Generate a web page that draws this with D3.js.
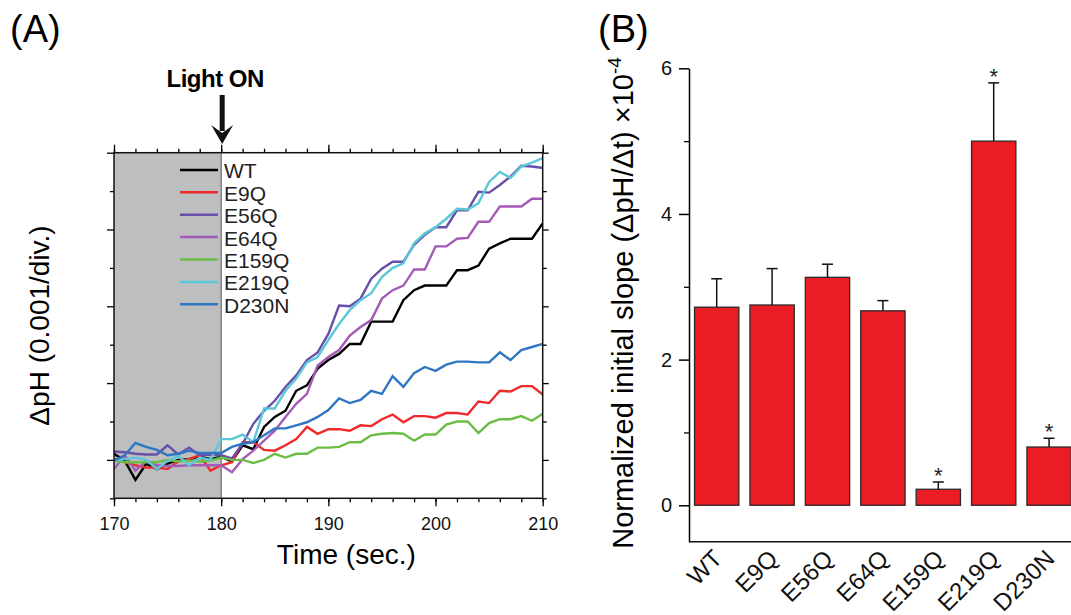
<!DOCTYPE html>
<html>
<head>
<meta charset="utf-8">
<script src="https://cdn.jsdelivr.net/npm/d3@7"></script>
<style>
  body { margin: 0; background: #fff; }
  svg { display: block; font-family: "Liberation Sans", Arial, sans-serif; }
</style>
</head>
<body>
<div id="chart-area"></div>
<script>
// ---- data, panel A (delta pH in 0.001 divisions, one point per second)
const seconds = [170, 171, 172, 173, 174, 175, 176, 177, 178, 179, 180,
  181, 182, 183, 184, 185, 186, 187, 188, 189, 190,
  191, 192, 193, 194, 195, 196, 197, 198, 199, 200,
  201, 202, 203, 204, 205, 206, 207, 208, 209, 210]

const wt = [0.08, -0.01, -0.26, -0.05, -0.12, -0.05, 0.00, 0.01, 0.04, 0.01, 0.04,
  -0.02, 0.19, 0.14, 0.43, 0.56, 0.64, 0.90, 0.97, 1.19, 1.30,
  1.38, 1.51, 1.51, 1.80, 1.80, 1.80, 2.08, 2.21, 2.27, 2.27,
  2.27, 2.47, 2.47, 2.53, 2.75, 2.82, 2.88, 2.88, 2.88, 3.08]
const e9q = [0.01, -0.03, -0.07, -0.10, -0.10, -0.12, -0.02, 0.01, 0.06, -0.14, -0.07,
  -0.03, 0.23, 0.23, 0.13, 0.12, 0.19, 0.27, 0.43, 0.34, 0.40,
  0.40, 0.38, 0.45, 0.44, 0.53, 0.59, 0.49, 0.57, 0.57, 0.55,
  0.61, 0.61, 0.59, 0.76, 0.74, 0.90, 0.89, 0.96, 0.96, 0.85]
const e56q = [0.11, 0.10, 0.08, 0.07, 0.07, 0.19, 0.07, 0.16, 0.06, 0.07, 0.06,
  0.02, 0.21, 0.47, 0.64, 0.77, 0.95, 1.10, 1.30, 1.40, 1.64,
  2.01, 2.00, 2.10, 2.36, 2.49, 2.58, 2.58, 2.80, 2.93, 3.03,
  3.03, 3.25, 3.25, 3.49, 3.48, 3.58, 3.69, 3.83, 3.82, 3.80]
const e64q = [-0.12, 0.06, -0.14, -0.01, -0.07, -0.08, -0.08, -0.07, -0.07, -0.07, -0.07,
  -0.16, 0.01, 0.12, 0.25, 0.38, 0.56, 0.73, 0.86, 1.23, 1.34,
  1.43, 1.62, 1.73, 1.82, 2.10, 2.21, 2.27, 2.48, 2.48, 2.78,
  2.78, 2.88, 2.89, 3.10, 3.10, 3.30, 3.30, 3.30, 3.40, 3.40]
const e159q = [-0.01, -0.03, -0.03, -0.03, -0.03, 0.00, -0.02, -0.01, -0.02, -0.01, 0.03,
  0.00, 0.00, -0.04, 0.00, 0.08, 0.03, 0.08, 0.08, 0.16, 0.16,
  0.17, 0.23, 0.23, 0.32, 0.34, 0.35, 0.34, 0.25, 0.33, 0.33,
  0.46, 0.50, 0.50, 0.35, 0.48, 0.53, 0.53, 0.57, 0.51, 0.60]
const e219q = [-0.01, 0.01, 0.03, 0.00, -0.12, -0.01, 0.05, -0.07, 0.03, 0.00, 0.27,
  0.27, 0.33, 0.23, 0.67, 0.67, 0.90, 1.06, 1.27, 1.34, 1.56,
  1.77, 1.95, 2.08, 2.17, 2.38, 2.50, 2.56, 2.82, 2.95, 3.03,
  3.14, 3.27, 3.26, 3.34, 3.62, 3.75, 3.67, 3.82, 3.87, 3.93]
const d230n = [-0.01, 0.06, 0.22, 0.17, 0.13, 0.06, 0.08, 0.12, 0.09, 0.09, 0.09,
  0.17, 0.21, 0.23, 0.32, 0.41, 0.41, 0.45, 0.49, 0.56, 0.65,
  0.80, 0.74, 0.78, 0.90, 0.86, 1.09, 0.95, 1.13, 1.21, 1.16,
  1.24, 1.28, 1.28, 1.27, 1.27, 1.40, 1.30, 1.43, 1.47, 1.51]

const mutants = ["WT", "E9Q", "E56Q", "E64Q", "E159Q", "E219Q", "D230N"]
const traceColors = ["#000000", "#ee2a2a", "#6a4fa8", "#a45bb6", "#6cbd46", "#5ac8d8", "#2f76c2"]
const timeTicks = [170, 180, 190, 200, 210]

// ---- data, panel B (normalized initial slope x1e-4)
const slopeMean = [2.72, 2.75, 3.13, 2.67, 0.22, 5.00, 0.80]
const slopeErr = [0.39, 0.50, 0.18, 0.14, 0.10, 0.80, 0.12]
const significant = [false, false, false, false, true, true, true]
const slopeTicks = [0, 2, 4, 6]

const traces = [wt, e9q, e56q, e64q, e159q, e219q, d230n]

const svg = d3.select("#chart-area").append("svg")
  .attr("width", 1071)
  .attr("height", 615)

// ================= panel A =================
const A = { LEFT: 114, RIGHT: 542.7, TOP: 152.7, BOTTOM: 498.3 }

const x = d3.scaleLinear()
  .domain([170, 210])
  .range([A.LEFT, A.RIGHT])
const y = d3.scaleLinear()
  .domain([-0.5, 4])
  .range([A.BOTTOM, A.TOP])

svg.append("text")
  .attr("x", 10)
  .attr("y", 42)
  .attr("font-size", 38)
  .text("(A)")

// dark period
svg.append("rect")
  .attr("x", x(170))
  .attr("y", A.TOP)
  .attr("width", x(180) - x(170))
  .attr("height", A.BOTTOM - A.TOP)
  .attr("fill", "#bdbec0")
svg.append("line")
  .attr("x1", x(180)).attr("x2", x(180))
  .attr("y1", A.TOP).attr("y2", A.BOTTOM)
  .attr("stroke", "#555")
  .attr("stroke-width", 1)

// minor + major ticks on all four sides
const minorX = seconds.filter(s => s % 2 === 0)
const minorY = [-0.5, 0.5, 1.5, 2.5, 3.5]
const majorY = [0, 1, 2, 3, 4]

function ticksOnly(axis, vals, size) {
  return g => {
    g.call(axis.tickValues(vals).tickSize(size).tickSizeOuter(0).tickFormat(""))
    g.select(".domain").remove()
    g.selectAll("line").attr("stroke-width", 1.3)
  }
}

svg.append("g").attr("transform", `translate(0,${A.BOTTOM})`)
  .call(ticksOnly(d3.axisBottom(x), minorX, 4))
svg.append("g").attr("transform", `translate(0,${A.TOP})`)
  .call(ticksOnly(d3.axisTop(x), minorX, 4))
svg.append("g").attr("transform", `translate(0,${A.TOP})`)
  .call(ticksOnly(d3.axisTop(x), timeTicks, 8))
svg.append("g").attr("transform", `translate(${A.LEFT},0)`)
  .call(ticksOnly(d3.axisLeft(y), minorY, 4))
svg.append("g").attr("transform", `translate(${A.LEFT},0)`)
  .call(ticksOnly(d3.axisLeft(y), majorY, 7))
svg.append("g").attr("transform", `translate(${A.RIGHT},0)`)
  .call(ticksOnly(d3.axisRight(y), minorY, 4))
svg.append("g").attr("transform", `translate(${A.RIGHT},0)`)
  .call(ticksOnly(d3.axisRight(y), majorY, 6))

const xAxisA = svg.append("g")
  .attr("transform", `translate(0,${A.BOTTOM})`)
  .call(d3.axisBottom(x).tickValues(timeTicks).tickSize(8).tickSizeOuter(0).tickPadding(11))
xAxisA.select(".domain").remove()
xAxisA.selectAll("line").attr("stroke-width", 1.3)
xAxisA.selectAll("text")
  .attr("font-size", 18)
  .attr("font-family", "Liberation Sans, Arial, sans-serif")
  .attr("fill", "#111")

// traces
const line = d3.line()
  .x((d, i) => x(seconds[i]))
  .y(d => y(d))

svg.append("clipPath").attr("id", "clipA")
  .append("rect")
  .attr("x", A.LEFT).attr("y", A.TOP)
  .attr("width", A.RIGHT - A.LEFT).attr("height", A.BOTTOM - A.TOP)

svg.append("g")
  .attr("clip-path", "url(#clipA)")
  .selectAll("path")
  .data(traces)
  .enter().append("path")
  .attr("d", d => line(d))
  .attr("fill", "none")
  .attr("stroke", (d, i) => traceColors[i])
  .attr("stroke-width", 2.4)
  .attr("stroke-linejoin", "miter")

// frame
svg.append("rect")
  .attr("x", A.LEFT).attr("y", A.TOP)
  .attr("width", A.RIGHT - A.LEFT).attr("height", A.BOTTOM - A.TOP)
  .attr("fill", "none")
  .attr("stroke", "#111")
  .attr("stroke-width", 1.5)

// legend
const legend = svg.append("g")
const legendRow = 22.4
mutants.forEach((m, i) => {
  const base = 178.3 + i * legendRow
  legend.append("line")
    .attr("x1", 180).attr("x2", 218)
    .attr("y1", base - 8.4).attr("y2", base - 8.4)
    .attr("stroke", traceColors[i])
    .attr("stroke-width", 2.5)
  legend.append("text")
    .attr("x", 224)
    .attr("y", base)
    .attr("font-size", 21)
    .attr("fill", "#222")
    .text(m)
})

// axis titles
svg.append("text")
  .attr("x", (A.LEFT + A.RIGHT) / 2 + 18)
  .attr("y", 563.5)
  .attr("text-anchor", "middle")
  .attr("font-size", 28)
  .text("Time (sec.)")

svg.append("text")
  .attr("transform", `translate(49, ${(A.TOP + A.BOTTOM) / 2}) rotate(-90)`)
  .attr("text-anchor", "middle")
  .attr("font-size", 28)
  .text("ΔpH (0.001/div.)")

// light on marker
const lx = x(180) + 1
svg.append("text")
  .attr("x", lx - 7)
  .attr("y", 87)
  .attr("text-anchor", "middle")
  .attr("font-size", 24)
  .attr("font-weight", "bold")
  .attr("letter-spacing", -0.5)
  .text("Light ON")
svg.append("rect")
  .attr("x", lx - 2.5).attr("y", 95)
  .attr("width", 5).attr("height", 36)
  .attr("fill", "#111")
svg.append("path")
  .attr("d", `M${lx - 11},125 L${lx},133 L${lx + 11},125 L${lx},144 Z`)
  .attr("fill", "#111")

// ================= panel B =================
const B = { LEFT: 689, TOP: 68.3, BOTTOM: 541.7 }

svg.append("text")
  .attr("x", 598)
  .attr("y", 42)
  .attr("font-size", 38)
  .text("(B)")

const xb = d3.scaleBand()
  .domain(mutants)
  .range([B.LEFT, B.LEFT + 7 * 55.4])
  .paddingInner(0.2)
  .paddingOuter(0.1)
const yb = d3.scaleLinear()
  .domain([-0.5, 6])
  .range([B.BOTTOM, B.TOP])

const yAxisB = svg.append("g")
  .attr("transform", `translate(${B.LEFT},0)`)
  .call(d3.axisLeft(yb).tickValues(slopeTicks).tickFormat(d3.format("d"))
    .tickSize(10).tickSizeOuter(0).tickPadding(7))
yAxisB.selectAll("text")
  .attr("font-size", 20)
  .attr("font-family", "Liberation Sans, Arial, sans-serif")
  .attr("fill", "#111")
yAxisB.selectAll("line, path").attr("stroke-width", 1.5)
svg.append("g").attr("transform", `translate(${B.LEFT},0)`)
  .call(ticksOnly(d3.axisLeft(yb), [1, 3, 5], 5))

svg.append("line")
  .attr("x1", B.LEFT).attr("x2", 1071)
  .attr("y1", B.BOTTOM).attr("y2", B.BOTTOM)
  .attr("stroke", "#111")
  .attr("stroke-width", 1.5)

const bars = svg.append("g")
bars.selectAll("rect")
  .data(slopeMean)
  .enter().append("rect")
  .attr("x", (d, i) => xb(mutants[i]))
  .attr("y", d => yb(d))
  .attr("width", xb.bandwidth())
  .attr("height", d => yb(0) - yb(d))
  .attr("fill", "#ec1c24")
  .attr("stroke", "#2a2a2a")
  .attr("stroke-width", 1.3)

const errs = svg.append("g")
  .attr("stroke", "#111")
  .attr("stroke-width", 1.5)
slopeMean.forEach((m, i) => {
  const cx = xb(mutants[i]) + xb.bandwidth() / 2
  errs.append("line")
    .attr("x1", cx).attr("x2", cx)
    .attr("y1", yb(m)).attr("y2", yb(m + slopeErr[i]))
  errs.append("line")
    .attr("x1", cx - 5.5).attr("x2", cx + 5.5)
    .attr("y1", yb(m + slopeErr[i])).attr("y2", yb(m + slopeErr[i]))
  if (significant[i]) {
    svg.append("text")
      .attr("x", cx)
      .attr("y", yb(m + slopeErr[i]) + 1)
      .attr("text-anchor", "middle")
      .attr("font-size", 22)
      .attr("fill", "#222")
      .text("*")
  }
})

// category labels
svg.append("g")
  .selectAll("text")
  .data(mutants)
  .enter().append("text")
  .attr("transform", d => `translate(${xb(d) + xb.bandwidth() / 2 + 7}, 560) rotate(-45)`)
  .attr("text-anchor", "end")
  .attr("font-size", 24)
  .attr("fill", "#111")
  .text(d => d)

// y title with superscript
const yTitle = svg.append("text")
  .attr("transform", "translate(633, 303) rotate(-90)")
  .attr("text-anchor", "middle")
  .attr("font-size", 29)
yTitle.append("tspan").text("Normalized initial slope (ΔpH/Δt) ×10")
yTitle.append("tspan")
  .attr("font-size", 19)
  .attr("dy", -12)
  .text("-4")
</script>
</body>
</html>
